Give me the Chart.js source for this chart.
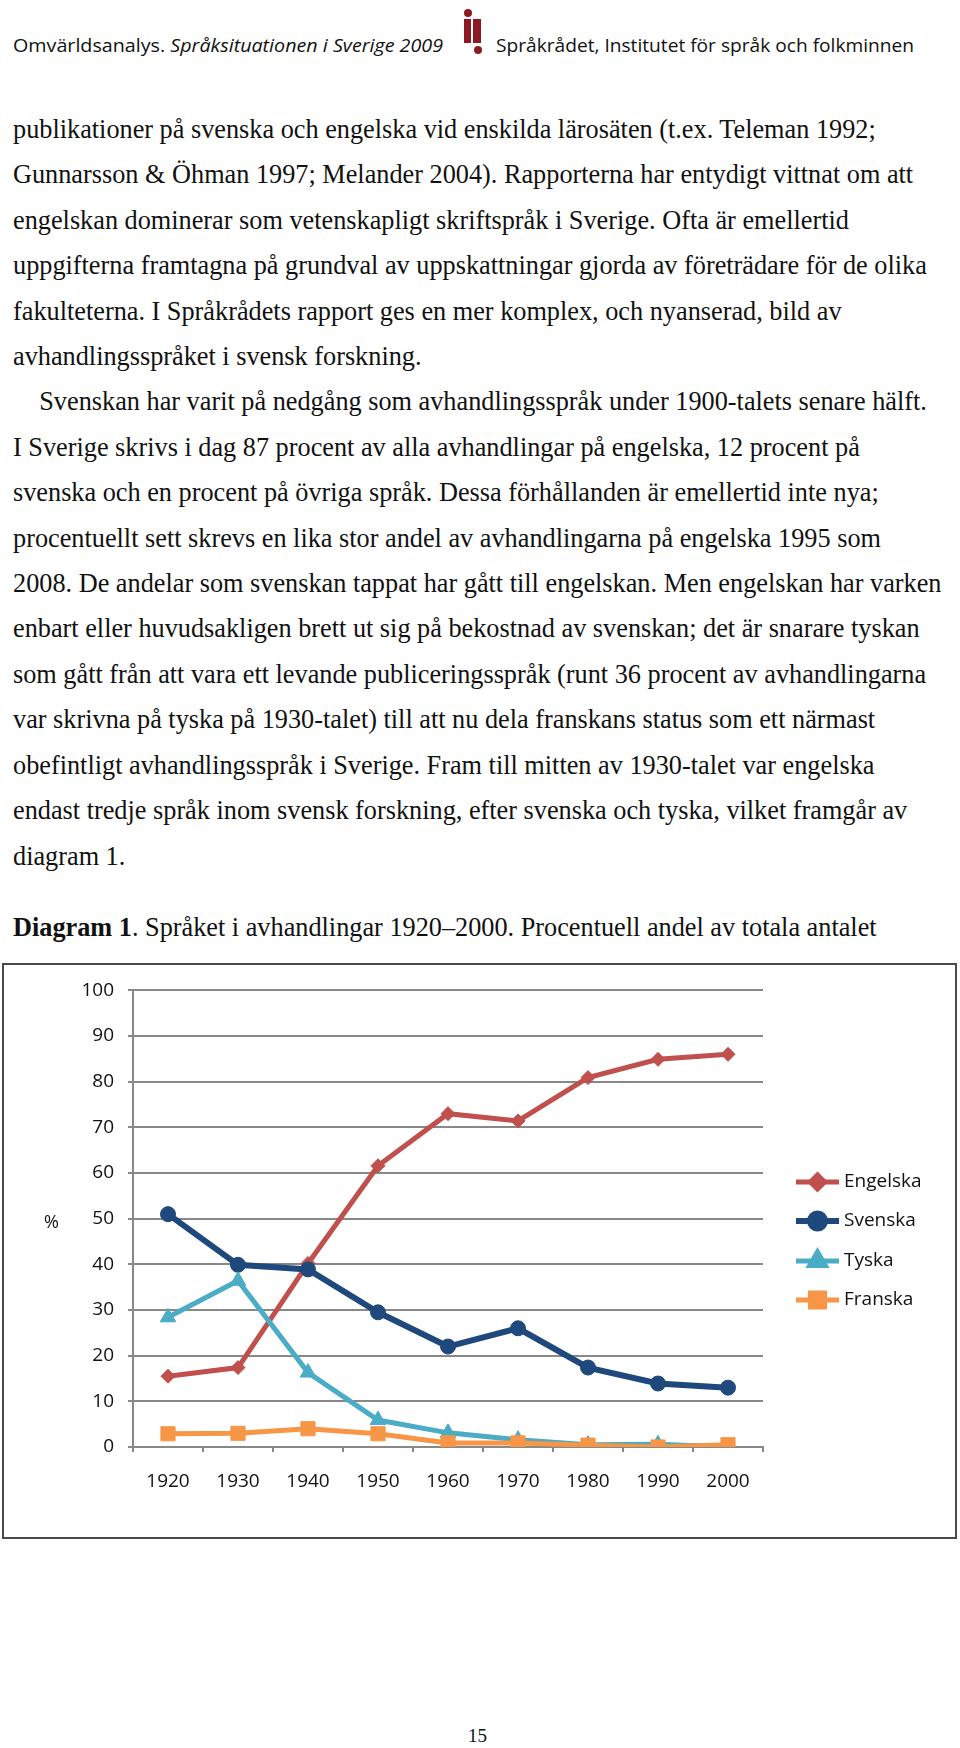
<!DOCTYPE html>
<html>
<head>
<meta charset="utf-8">
<script src="https://cdn.jsdelivr.net/npm/chart.js@4.4.1/dist/chart.umd.min.js"></script>
<style>
  body { margin: 0; background: #fff; width: 960px; height: 1748px; position: relative; overflow: hidden; }
  .hdr { position: absolute; top: 33px; font-family: "Open Sans", sans-serif; font-size: 18px; color: #111; white-space: nowrap; transform-origin: 0 50%; line-height: 24px; }
  .logo div { position: absolute; background: #8b1a22; }
  .body { position: absolute; left: 13px; top: 107px; font-family: "Liberation Serif", "Times New Roman", serif; color: #111; line-height: 45.4px; white-space: pre; }
  .caption { position: absolute; left: 13px; top: 905px; font-family: "Liberation Serif", serif; color: #111; white-space: pre; line-height: 46px; }
  .box { position: absolute; left: 2px; top: 963px; width: 955px; height: 576px; border: 2px solid #4a4a4a; box-sizing: border-box; }
  .pct { position: absolute; left: 44px; top: 1209px; font-family: "Open Sans", sans-serif; font-size: 18px; color: #111; }
  .pagenum { position: absolute; left: 468px; top: 1725px; font-family: "Liberation Serif", serif; font-size: 19px; color: #111; }
</style>
</head>
<body>
<div class="hdr" id="hdrL" style="left:13px">Omvärldsanalys. <i>Språksituationen i Sverige 2009</i></div>
<div class="logo">
  <div style="left:464px;top:9px;width:8px;height:8px;border-radius:50%"></div>
  <div style="left:464px;top:19px;width:7px;height:24px"></div>
  <div style="left:473px;top:19px;width:8px;height:24px"></div>
  <div style="left:474px;top:46px;width:8px;height:8px;border-radius:50%"></div>
</div>
<div class="hdr" id="hdrR" style="left:496px">Språkrådet, Institutet för språk och folkminnen</div>

<div class="body" id="bodyText">publikationer på svenska och engelska vid enskilda lärosäten (t.ex. Teleman 1992;
Gunnarsson &amp; Öhman 1997; Melander 2004). Rapporterna har entydigt vittnat om att
engelskan dominerar som vetenskapligt skriftspråk i Sverige. Ofta är emellertid
uppgifterna framtagna på grundval av uppskattningar gjorda av företrädare för de olika
fakulteterna. I Språkrådets rapport ges en mer komplex, och nyanserad, bild av
avhandlingsspråket i svensk forskning.
    Svenskan har varit på nedgång som avhandlingsspråk under 1900-talets senare hälft.
I Sverige skrivs i dag 87 procent av alla avhandlingar på engelska, 12 procent på
svenska och en procent på övriga språk. Dessa förhållanden är emellertid inte nya;
procentuellt sett skrevs en lika stor andel av avhandlingarna på engelska 1995 som
2008. De andelar som svenskan tappat har gått till engelskan. Men engelskan har varken
enbart eller huvudsakligen brett ut sig på bekostnad av svenskan; det är snarare tyskan
som gått från att vara ett levande publiceringsspråk (runt 36 procent av avhandlingarna
var skrivna på tyska på 1930-talet) till att nu dela franskans status som ett närmast
obefintligt avhandlingsspråk i Sverige. Fram till mitten av 1930-talet var engelska
endast tredje språk inom svensk forskning, efter svenska och tyska, vilket framgår av
diagram 1.</div>

<div class="caption" id="caption"><b>Diagram 1</b>. Språket i avhandlingar 1920–2000. Procentuell andel av totala antalet</div>

<div class="box"><canvas id="chart" width="951" height="572"></canvas></div>
<div class="pct">%</div>
<div class="pagenum">15</div>

<script>
// fit header spans to the widths in the original
function fitWidth(id, target) {
  const el = document.getElementById(id);
  const w = el.getBoundingClientRect().width;
  el.style.transform = "scaleX(" + (target / w) + ")";
}
fitWidth("hdrL", 430);
fitWidth("hdrR", 418);

// body text size chosen so the first line is as wide as in the original
(function () {
  const c = document.createElement("canvas").getContext("2d");
  c.font = "100px 'Liberation Serif'";
  const w = c.measureText("publikationer på svenska och engelska vid enskilda lärosäten (t.ex. Teleman 1992;").width;
  const size = 100 * 864 / w;
  document.getElementById("bodyText").style.fontSize = size + "px";
  document.getElementById("caption").style.fontSize = size + "px";
})();

const years = ["1920", "1930", "1940", "1950", "1960", "1970", "1980", "1990", "2000"];
const engelska = [15.5, 17.4, 40.2, 61.6, 73, 71.4, 80.9, 84.9, 86];
const svenska = [51, 39.9, 38.9, 29.5, 22, 26, 17.4, 13.9, 13];
const tyska = [28.4, 36.4, 16.3, 5.9, 3.1, 1.6, 0.5, 0.6, 0];
const franska = [2.9, 3, 4, 2.9, 0.9, 0.9, 0.4, 0, 0.5];
const yTicks = [0, 10, 20, 30, 40, 50, 60, 70, 80, 90, 100];

const tickFont = { family: "'Open Sans', sans-serif", size: 19 };

const legendPlugin = {
  id: "sideLegend",
  afterDraw(chart) {
    const ctx = chart.ctx;
    const x0 = chart.chartArea.right + 33;
    const x1 = x0 + 43;
    const rows = [217, 256, 296, 335];
    chart.data.datasets.forEach((ds, i) => {
      const y = rows[i];
      ctx.save();
      ctx.strokeStyle = ds.borderColor;
      ctx.lineWidth = ds.borderWidth;
      ctx.beginPath();
      ctx.moveTo(x0, y);
      ctx.lineTo(x1, y);
      ctx.stroke();
      ctx.fillStyle = ds.pointBackgroundColor;
      ctx.strokeStyle = ds.pointBorderColor;
      Chart.helpers.drawPoint(ctx, {
        pointStyle: ds.pointStyle,
        radius: ds.pointRadius,
        rotation: 0,
        borderWidth: 1
      }, (x0 + x1) / 2, y);
      ctx.fillStyle = "#111";
      ctx.font = "19px 'Open Sans', sans-serif";
      ctx.textBaseline = "middle";
      ctx.fillText(ds.label, x1 + 5, y);
      ctx.restore();
    });
  }
};

function series(label, data, color, style, radius, width, order) {
  return {
    label, data, order,
    borderColor: color,
    backgroundColor: color,
    pointBackgroundColor: color,
    pointBorderColor: color,
    borderWidth: width,
    pointStyle: style,
    pointRadius: radius,
    pointBorderWidth: 1,
    tension: 0
  };
}

new Chart(document.getElementById("chart"), {
  type: "line",
  data: {
    labels: years,
    datasets: [
      series("Engelska", engelska, "#C0504D", "rectRot", 7, 5, 3),
      series("Svenska", svenska, "#1F497D", "circle", 7.5, 6, 2),
      series("Tyska", tyska, "#4BACC6", "triangle", 9, 5, 1),
      series("Franska", franska, "#F79646", "rect", 10, 5, 0)
    ]
  },
  options: {
    responsive: false,
    animation: false,
    layout: { padding: { top: 25, right: 192, bottom: 0, left: 0 } },
    plugins: { legend: { display: false }, tooltip: { enabled: false } },
    scales: {
      x: {
        offset: true,
        afterFit: s => { s.height = 572 - 482; },
        grid: { offset: true, drawOnChartArea: false, drawTicks: true, tickLength: 5, color: "#888", lineWidth: 2 },
        border: { color: "#888", width: 2 },
        ticks: { font: tickFont, color: "#111", padding: 18, maxRotation: 0 }
      },
      y: {
        min: 0,
        max: 100,
        afterFit: s => { s.width = 129; },
        afterBuildTicks: s => { s.ticks = yTicks.map(v => ({ value: v })); },
        grid: { color: "#888", lineWidth: 2, tickLength: 5 },
        border: { color: "#888", width: 2 },
        ticks: { font: tickFont, color: "#111", padding: 14 }
      }
    }
  },
  plugins: [legendPlugin]
});
</script>
</body>
</html>
